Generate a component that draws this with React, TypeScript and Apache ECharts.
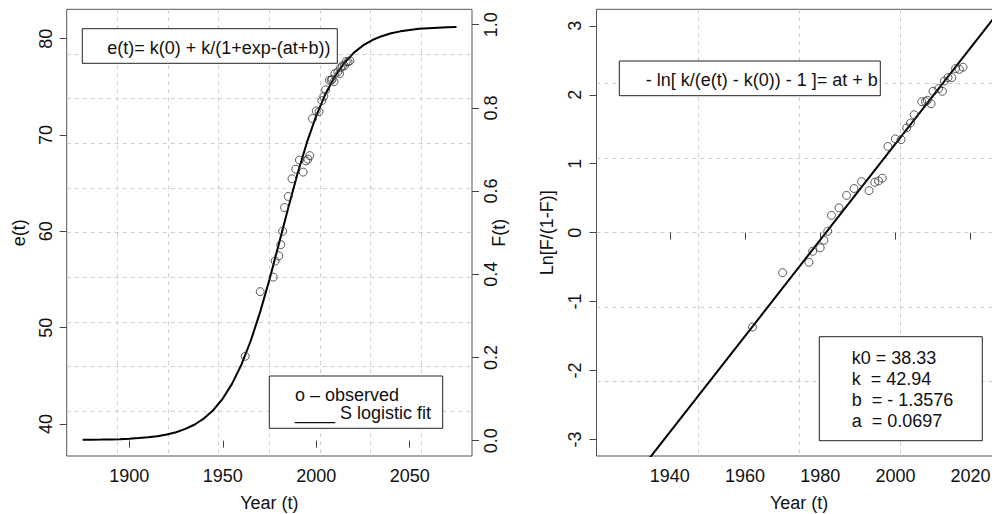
import React, { useEffect, useRef } from "react";
import * as echarts from "echarts";

// ---- data ----
const fitYears = [1875, 1880, 1885, 1890, 1895, 1900, 1905, 1910, 1915, 1920, 1925, 1930, 1935, 1940, 1945, 1950, 1955, 1960, 1965, 1970, 1975, 1980, 1985, 1990, 1995, 2000, 2005, 2010, 2015, 2020, 2025, 2030, 2035, 2040, 2045, 2050, 2055, 2060, 2065, 2070, 2075];
const fitE = [38.36, 38.37, 38.38, 38.4, 38.43, 38.48, 38.54, 38.62, 38.74, 38.91, 39.15, 39.49, 39.95, 40.59, 41.46, 42.64, 44.19, 46.18, 48.67, 51.64, 55.03, 58.7, 62.42, 66.0, 69.23, 72.01, 74.29, 76.1, 77.48, 78.53, 79.3, 79.86, 80.26, 80.56, 80.76, 80.91, 81.02, 81.09, 81.14, 81.18, 81.21];

const obsYears = [1962, 1970, 1977, 1978, 1980, 1981, 1982, 1983, 1985, 1987, 1989, 1991, 1993, 1994.5, 1995.5, 1996.5, 1998, 2000, 2001.5, 2003, 2004, 2005, 2007, 2008, 2008.5, 2009.5, 2010, 2011.5, 2012.5, 2013, 2014, 2015, 2016, 2017, 2018];
const obsE = [47.03, 53.74, 55.25, 56.92, 57.45, 58.62, 60.01, 62.47, 63.62, 65.46, 66.45, 67.4, 66.15, 67.31, 67.49, 67.86, 71.71, 72.5, 72.43, 73.57, 74.0, 74.69, 75.68, 75.68, 75.78, 75.54, 76.38, 76.54, 76.38, 76.99, 77.18, 77.18, 77.63, 77.6, 77.7];
const obsLn = [-1.37, -0.58, -0.43, -0.27, -0.22, -0.11, 0.02, 0.25, 0.36, 0.54, 0.64, 0.74, 0.61, 0.73, 0.75, 0.79, 1.25, 1.36, 1.35, 1.52, 1.59, 1.71, 1.9, 1.9, 1.92, 1.87, 2.05, 2.09, 2.05, 2.2, 2.25, 2.25, 2.38, 2.37, 2.4];

const lnLineYears = [1925, 2030];
const lnLineValues = [-3.94, 3.38];

const leftXTicks = [1900, 1950, 2000, 2050];
const leftYTicks = [40, 50, 60, 70, 80];
const fTicks = [0, 0.2, 0.4, 0.6, 0.8, 1.0];
const rightXTicks = [1940, 1960, 1980, 2000, 2020];
const rightYTicks = [-3, -2, -1, 0, 1, 2, 3];

const leftLegendText = "e(t)= k(0) + k/(1+exp-(at+b))";
const obsLegendLines = ["o \u2013 observed", "____ S logistic fit"];
const rightLegendText = "- ln[ k/(e(t) - k(0)) - 1 ]= at + b";
const paramLines = ["k0 = 38.33", "k\u00a0 = 42.94", "b\u00a0 = - 1.3576", "a\u00a0 = 0.0697"];

const FONT = "'Liberation Sans', Arial, Helvetica, sans-serif";
const TXT = { color: "#111", fontSize: 18, fontFamily: FONT };
const TICK = { color: "#444", width: 1 };
const GRIDLINE = { color: "#cccccc", width: 1, type: [4, 4] as any };
const plain = (v: number) => String(v);

function gridAxis(gridIndex: number, max: number, position: string) {
  return {
    gridIndex,
    type: "value",
    min: 0,
    max,
    interval: 1,
    position,
    axisLine: { show: false },
    axisTick: { show: false },
    axisLabel: { show: false },
    splitLine: { show: true, showMinLine: false, showMaxLine: false, lineStyle: GRIDLINE },
  };
}

export default function App() {
  const ref = useRef<HTMLDivElement>(null);

  useEffect(() => {
    if (!ref.current) return;
    const chart = echarts.init(ref.current, undefined, { renderer: "svg" });

    const textEl = (x: number, y: number, text: string, lineHeight = 18, va = "middle") => ({
      type: "text",
      x,
      y,
      z: 100,
      style: { text, fontSize: 18, lineHeight, fontFamily: FONT, fill: "#111", textVerticalAlign: va, textAlign: "left" },
    });
    const boxEl = (x: number, y: number, w: number, h: number) => ({
      type: "rect",
      z: 99,
      shape: { x, y, width: w, height: h },
      style: { fill: "#fff", stroke: "#222", lineWidth: 1 },
    });

    const gridBase = {
      top: 9.3,
      width: 405.3,
      height: 446.7,
      show: true,
      borderColor: "#555",
      borderWidth: 1,
      backgroundColor: "transparent",
      containLabel: false,
      outerBoundsMode: "none",
    };

    const option: any = {
      animation: false,
      backgroundColor: "#fff",
      textStyle: { fontFamily: FONT },
      grid: [
        { ...gridBase, left: 66.7 },
        { ...gridBase, left: 596.5 },
      ],
      xAxis: [
        {
          gridIndex: 0,
          type: "value",
          min: 1866.5,
          max: 2083.3,
          position: "bottom",
          name: "Year (t)",
          nameLocation: "middle",
          nameGap: 38,
          nameMoveOverlap: false,
          nameTextStyle: TXT,
          axisLine: { show: false },
          axisTick: { show: true, customValues: leftXTicks, length: 7, lineStyle: TICK },
          axisLabel: { customValues: leftXTicks, margin: 11, formatter: plain, ...TXT },
          splitLine: { show: false },
        },
        gridAxis(0, 8, "top"),
        {
          gridIndex: 1,
          type: "value",
          min: 1920.5,
          max: 2028.3,
          position: "bottom",
          name: "Year (t)",
          nameLocation: "middle",
          nameGap: 38,
          nameMoveOverlap: false,
          nameTextStyle: TXT,
          axisLine: { show: false },
          axisTick: { show: true, customValues: rightXTicks, length: 7, lineStyle: TICK },
          axisLabel: { customValues: rightXTicks, margin: 11, formatter: plain, ...TXT },
          splitLine: { show: false },
        },
        gridAxis(1, 4, "top"),
      ],
      yAxis: [
        {
          gridIndex: 0,
          type: "value",
          min: 36.68,
          max: 83.05,
          position: "left",
          name: "e(t)",
          nameLocation: "middle",
          nameRotate: 90,
          nameGap: 39,
          nameMoveOverlap: false,
          nameTextStyle: TXT,
          axisLine: { show: false },
          axisTick: { show: true, customValues: leftYTicks, length: 7, lineStyle: TICK },
          axisLabel: { customValues: leftYTicks, rotate: 90, margin: 12, formatter: plain, ...TXT },
          splitLine: { show: false },
        },
        {
          gridIndex: 0,
          type: "value",
          min: -0.0368,
          max: 1.037,
          position: "right",
          name: "F(t)",
          nameLocation: "middle",
          nameRotate: 90,
          nameGap: 18,
          nameMoveOverlap: false,
          nameTextStyle: TXT,
          axisLine: { show: false },
          axisTick: { show: true, customValues: fTicks, length: 7, lineStyle: TICK },
          axisLabel: { customValues: fTicks, rotate: 90, margin: 10, formatter: (v: number) => v.toFixed(1), ...TXT },
          splitLine: { show: false },
        },
        gridAxis(0, 10, "left"),
        {
          gridIndex: 1,
          type: "value",
          min: -3.24,
          max: 3.24,
          position: "left",
          name: "Ln[F/(1-F)]",
          nameLocation: "middle",
          nameRotate: 90,
          nameGap: 41,
          nameMoveOverlap: false,
          nameTextStyle: TXT,
          axisLine: { show: false },
          axisTick: { show: true, customValues: rightYTicks, length: 7, lineStyle: TICK },
          axisLabel: { customValues: rightYTicks, rotate: 90, margin: 13, formatter: plain, ...TXT },
          splitLine: { show: false },
        },
        gridAxis(1, 6, "right"),
      ],
      series: [
        {
          type: "line",
          xAxisIndex: 0,
          yAxisIndex: 0,
          data: fitYears.map((y, i) => [y, fitE[i]]),
          showSymbol: false,
          smooth: false,
          lineStyle: { color: "#000", width: 2 },
          z: 3,
        },
        {
          type: "scatter",
          xAxisIndex: 0,
          yAxisIndex: 0,
          data: obsYears.map((y, i) => [y, obsE[i]]),
          symbol: "circle",
          symbolSize: 8,
          itemStyle: { color: "rgba(0,0,0,0)", borderColor: "#333", borderWidth: 1 },
          z: 4,
        },
        {
          type: "line",
          xAxisIndex: 2,
          yAxisIndex: 3,
          data: lnLineYears.map((y, i) => [y, lnLineValues[i]]),
          showSymbol: false,
          clip: true,
          lineStyle: { color: "#000", width: 2 },
          z: 3,
        },
        {
          type: "scatter",
          xAxisIndex: 2,
          yAxisIndex: 3,
          data: obsYears.map((y, i) => [y, obsLn[i]]),
          symbol: "circle",
          symbolSize: 8,
          itemStyle: { color: "rgba(0,0,0,0)", borderColor: "#333", borderWidth: 1 },
          z: 4,
        },
      ],
      graphic: [
        boxEl(82.3, 28.7, 255, 34.6),
        textEl(107.3, 48, leftLegendText),
        boxEl(269.3, 376, 173.4, 52.3),
        textEl(295, 385.5, obsLegendLines.join("\n"), 18.5, "top"),
        boxEl(619.3, 61, 261, 34.7),
        textEl(645.7, 80, rightLegendText),
        boxEl(819.3, 336.7, 163, 104),
        textEl(851.7, 347.8, paramLines.join("\n"), 20.9, "top"),
      ],
    };

    chart.setOption(option);
    return () => chart.dispose();
  }, []);

  return (
    <div
      ref={ref}
      style={{ position: "absolute", left: 0, top: 0, width: 992, height: 514, background: "#fff" }}
    />
  );
}
